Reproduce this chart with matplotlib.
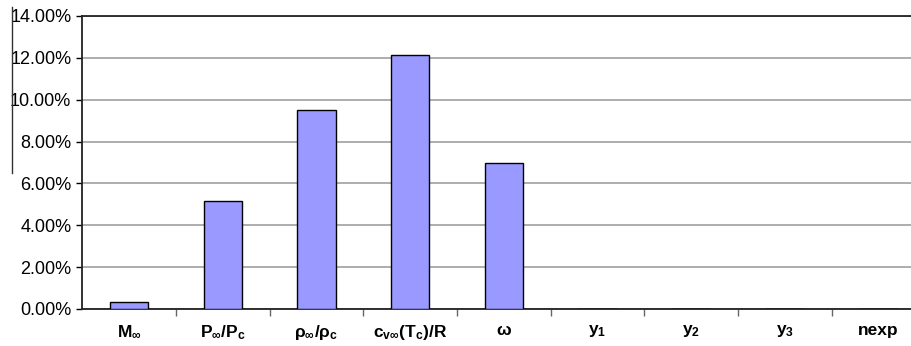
import matplotlib
matplotlib.use("Agg")
import matplotlib.pyplot as plt
from matplotlib.lines import Line2D
from matplotlib.ticker import FuncFormatter, FixedLocator

plt.rcParams["font.family"] = ["Liberation Sans", "DejaVu Sans"]
plt.rcParams["mathtext.default"] = "regular"

# relative sensitivity of each model parameter (percent)
labels = [r"M$_\infty$", r"P$_\infty$/P$_c$", r"$\rho_\infty$/$\rho_c$",
          r"c$_{v\infty}$(T$_c$)/R", r"$\omega$", r"y$_1$", r"y$_2$", r"y$_3$", "nexp"]
values = [0.35, 5.18, 9.52, 12.14, 6.97, 0.0, 0.0, 0.0, 0.0]

fig = plt.figure(figsize=(9.12, 3.46), dpi=100)
ax = fig.add_axes([0.0904, 0.107, 0.924, 0.847])

x = list(range(len(labels)))
ax.bar(x, values, width=0.41, color="#9999ff", edgecolor="black", linewidth=1.0, zorder=3)

ax.set_xlim(-0.5, len(labels) - 0.5)
ax.set_ylim(0, 14)
ax.set_yticks([0, 2, 4, 6, 8, 10, 12, 14])
ax.yaxis.set_major_formatter(FuncFormatter(lambda v, p: f"{v:.2f}%"))
ax.yaxis.grid(True, color="#a0a0a0", linewidth=1.2, zorder=0)
ax.tick_params(axis="y", length=4, width=1, labelsize=13, pad=4)

# category labels centred, ticks on the boundaries
ax.set_xticks(x)
ax.set_xticklabels(labels, fontsize=12.5, fontweight="bold")
ax.tick_params(axis="x", which="major", length=0, pad=10)
ax.xaxis.set_minor_locator(FixedLocator([i + 0.5 for i in x[:-1]]))
ax.tick_params(axis="x", which="minor", length=5, width=1, color="#666666")

for side in ("left", "bottom", "top"):
    ax.spines[side].set_linewidth(1.3)
    ax.spines[side].set_color("#222222")
ax.spines["right"].set_visible(False)

fig.add_artist(Line2D([12.3 / 912, 12.3 / 912], [1 - 7 / 346, 1 - 173 / 346],
                      color="#333333", linewidth=1.0))

fig.savefig("out.png", dpi=100)
